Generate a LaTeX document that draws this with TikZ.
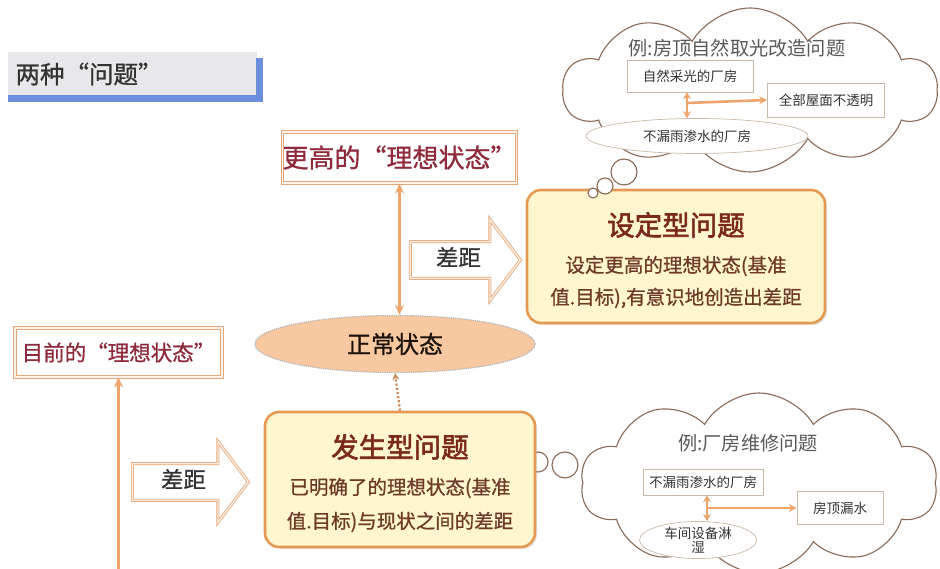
\documentclass[tikz,border=0pt]{standalone}
\usepackage{fontspec}
\setmainfont{Noto Sans CJK SC}
\newfontfamily\cjkfb{Noto Sans CJK SC}[FakeBold=2.2]
\newfontfamily\cjkmb{Noto Sans CJK SC}[FakeBold=0.8]
\usetikzlibrary{shapes.symbols,shapes.arrows,shapes.geometric,arrows.meta,shadows}
\definecolor{maroon}{HTML}{8E2A3A}
\definecolor{boxline}{HTML}{E6A878}
\definecolor{probfill}{HTML}{FFF6CF}
\definecolor{probline}{HTML}{E49A52}
\definecolor{probtitle}{HTML}{7A2A1A}
\definecolor{probtext}{HTML}{6E3B26}
\definecolor{peach}{HTML}{F8C9A0}
\definecolor{arrowor}{HTML}{EFA46C}
\definecolor{cloudline}{HTML}{8A6A55}
\definecolor{bluebar}{HTML}{6B8FDA}
\definecolor{titlegray}{HTML}{E8E8EA}
\definecolor{smallbox}{HTML}{C9B9A8}
\definecolor{dotline}{HTML}{C98A5A}
\begin{document}
\begin{tikzpicture}[x=1pt,y=-1pt,
  idealbox/.style={draw=boxline, line width=0.9pt, double=white!85!boxline, double distance=1.6pt, fill=white, inner sep=0pt, text=maroon},
  probbox/.style={draw=probline, line width=2.6pt, fill=probfill, rounded corners=14pt, drop shadow={opacity=0.2, shadow xshift=2pt, shadow yshift=-2pt}},
  probtitle/.style={text=probtitle, font=\cjkfb\fontsize{27.5}{30}\selectfont},
  probline/.style={text=probtext, font=\cjkmb\fontsize{19.5}{21}\selectfont},
  gaparrow/.style={single arrow, draw=boxline, line width=0.8pt, double=white!80!boxline, double distance=1.4pt, fill=white, single arrow head extend=22pt, single arrow tip angle=106, inner ysep=8pt, inner xsep=4pt, text height=16pt, text depth=4pt, anchor=tail, font=\cjkmb\fontsize{22.5}{24}\selectfont, text=black!80},
  twoway/.style={draw=arrowor, line width=3pt, {Stealth[length=10pt,width=9pt]}-{Stealth[length=10pt,width=9pt]}},
  smallway/.style={draw=arrowor, line width=2.6pt, {Stealth[length=7pt,width=8pt]}-{Stealth[length=7pt,width=8pt]}},
  oneway/.style={draw=arrowor, line width=2.6pt, -{Stealth[length=8pt,width=8pt]}},
  cloudshape/.style={cloud, cloud puffs=10, cloud puff arc=120, cloud ignores aspect, draw=cloudline, fill=white, line width=1.1pt},
  bubble/.style={circle, draw=cloudline, fill=white, line width=1.1pt, inner sep=0pt},
  cbox/.style={draw=smallbox, line width=0.7pt, fill=white, inner sep=0pt, font=\fontsize{13.5}{15}\selectfont, text=black!80},
  cell/.style={ellipse, draw=smallbox, line width=0.7pt, fill=white, inner sep=0pt, font=\fontsize{13.5}{14}\selectfont, text=black!80, align=center},
  chead/.style={font=\fontsize{19.2}{21}\selectfont, text=black!65}
]
\clip (0,0) rectangle (940,569);
\fill[white] (0,0) rectangle (940,569);

% title bar
\node[fill=titlegray, minimum width=249pt, minimum height=45pt, anchor=north west, inner sep=0pt] (ttlbg) at (8,52) {};
\fill[bluebar] (8,95) rectangle (263,102);
\fill[bluebar] (256,58) rectangle (263,102);
\node[anchor=west, font=\cjkmb\fontsize{24.5}{26}\selectfont, text=black!80] (ttl) at (12,74) {两种“问题”};

% top cloud
\node[cloudshape, minimum width=374pt, minimum height=164pt] (c1) at (750,90) {};
\node[chead] (c1h) at (737,48) {例:房顶自然取光改造问题};
\node[cbox, minimum width=126pt, minimum height=32pt] (a1) at (690,76) {自然采光的厂房};
\node[cbox, minimum width=117pt, minimum height=34pt] (b1) at (826,100) {全部屋面不透明};
\node[cell, minimum width=222pt, minimum height=35pt] (e1) at (697,136) {不漏雨渗水的厂房};
\coordinate (m1) at (687,103);
\draw[smallway] (a1.south -| m1) -- (e1.north -| m1);
\draw[oneway] (m1) -- (b1.west);

% bottom cloud
\node[bubble, minimum size=10pt] (d1) at (518,461) {};
\node[bubble, minimum size=20pt] (d2) at (538,462) {};
\node[bubble, minimum size=26pt] (d3) at (565,465) {};
\node[cloudshape, minimum width=357pt, minimum height=180pt] (c2) at (759,483) {};
\node[chead] (c2h) at (748,443) {例:厂房维修问题};
\node[cbox, minimum width=120pt, minimum height=26pt] (a2) at (703,482) {不漏雨渗水的厂房};
\node[cbox, minimum width=86pt, minimum height=33pt] (b2) at (840,508) {房顶漏水};
\node[cell, minimum width=117pt, minimum height=36pt] (e2) at (698,540) {车间设备淋\\湿};
\coordinate (m2) at (707,508);
\draw[smallway] (a2.south -| m2) -- (e2.north -| m2);
\draw[oneway] (m2) -- (b2.west);

% ideal boxes
\node[idealbox, minimum width=225pt, minimum height=51pt, font=\cjkmb\fontsize{26}{28}\selectfont] (hi) at (399.5,157.5) {更高的“理想状态”};
\node[idealbox, minimum width=207pt, minimum height=49pt, font=\cjkmb\fontsize{21.5}{23}\selectfont] (cur) at (118.5,352.5) {目前的“理想状态”};

% problem boxes
\node[probbox, minimum width=298pt, minimum height=133pt] (setp) at (676,256.5) {};
\node[probtitle] (setpT) at (676,225) {设定型问题};
\node[probline] (setp1) at (676,266) {设定更高的理想状态(基准};
\node[probline] (setp2) at (676,298) {值.目标),有意识地创造出差距};

\node[probbox, minimum width=270pt, minimum height=135pt] (occ) at (400,479.5) {};
\node[probtitle] (occT) at (400,447) {发生型问题};
\node[probline] (occ1) at (400,488) {已明确了的理想状态(基准};
\node[probline] (occ2) at (400,522) {值.目标)与现状之间的差距};

% bubbles above setp
\node[bubble, minimum size=26pt] (u3) at (624,172) {};
\node[bubble, minimum size=16pt] (u2) at (605,186) {};
\node[bubble, minimum size=10pt] (u1) at (593,193) {};

% normal state
\node[ellipse, fill=peach, draw=gray!60, densely dotted, line width=1.2pt, minimum width=280pt, minimum height=57pt, font=\cjkmb\fontsize{24}{26}\selectfont, text=black!85!brown] (norm) at (395,344) {正常状态};

% gap arrows
\node[gaparrow, minimum height=110pt] (gap1) at (410,260) {差距};
\node[gaparrow, minimum height=116pt] (gap2) at (132,482) {差距};

% connectors
\draw[twoway] (hi.south) -- (hi.south |- norm.north);
\coordinate (curend) at (118.5,600);
\draw[twoway] (cur.south) -- (curend);
\draw[draw=dotline, line width=2.2pt, dotted, -{Stealth[length=7pt,width=7pt]}] (occ.north) -- (norm.south);
\end{tikzpicture}
\end{document}
